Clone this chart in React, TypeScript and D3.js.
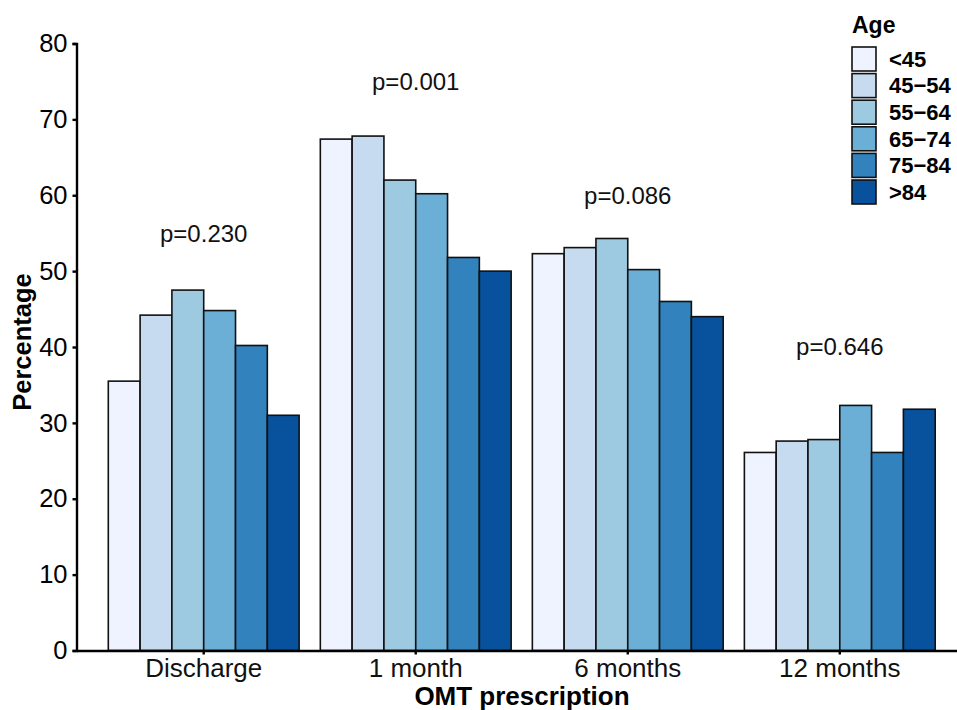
import React, { useRef, useEffect } from "react";
import * as d3 from "d3";

const timepoints = ["Discharge", "1 month", "6 months", "12 months"];
const ageGroups = ["<45", "45\u221254", "55\u221264", "65\u221274", "75\u221284", ">84"];
const colors = ["#EFF3FF", "#C6DBEF", "#9ECAE1", "#6BAED6", "#3182BD", "#08519C"];

// percentage by age group, one array per time point
const discharge = [35.5, 44.2, 47.5, 44.8, 40.2, 31.0];
const oneMonth = [67.4, 67.8, 62.0, 60.2, 51.8, 50.0];
const sixMonths = [52.3, 53.1, 54.3, 50.2, 46.0, 44.0];
const twelveMonths = [26.1, 27.6, 27.8, 32.3, 26.1, 31.8];

const pLabels = ["p=0.230", "p=0.001", "p=0.086", "p=0.646"];
const pLabelY = [55, 75, 60, 40];
const yTicks = [0, 10, 20, 30, 40, 50, 60, 70, 80];

const App = () => {
  const svgRef = useRef<SVGSVGElement>(null);

  useEffect(() => {
    const width = 957;
    const height = 710;
    const font = "Liberation Sans, Arial, sans-serif";
    const values = [discharge, oneMonth, sixMonths, twelveMonths];

    const svg = d3.select(svgRef.current);
    svg.selectAll("*").remove();
    svg.attr("width", width).attr("height", height);

    const left = 76.5;
    const bottom = 650.5;

    const x = d3
      .scaleBand()
      .domain(timepoints)
      .range([left, 967])
      .paddingInner(0)
      .paddingOuter(0.1);
    const xInner = d3
      .scaleBand()
      .domain(ageGroups)
      .range([0, x.bandwidth() * 0.9]);
    const y = d3.scaleLinear().domain([0, 80]).range([bottom, 43.5]);
    const color = d3.scaleOrdinal<string>().domain(ageGroups).range(colors);

    // bars
    timepoints.forEach((t, i) => {
      const g = svg
        .append("g")
        .attr("transform", `translate(${x(t)! + x.bandwidth() * 0.05},0)`);
      g.selectAll("rect")
        .data(values[i])
        .enter()
        .append("rect")
        .attr("x", (_d, j) => xInner(ageGroups[j])!)
        .attr("y", (d) => y(d))
        .attr("width", xInner.bandwidth())
        .attr("height", (d) => bottom - y(d))
        .attr("fill", (_d, j) => color(ageGroups[j]))
        .attr("stroke", "#111")
        .attr("stroke-width", 1.6);
    });

    // p-value labels
    svg
      .selectAll(".plabel")
      .data(pLabels)
      .enter()
      .append("text")
      .attr("class", "plabel")
      .attr("x", (_d, i) => x(timepoints[i])! + x.bandwidth() / 2)
      .attr("y", (_d, i) => y(pLabelY[i]))
      .attr("dy", "0.35em")
      .attr("text-anchor", "middle")
      .style("font-family", font)
      .style("font-size", "24px")
      .attr("fill", "#111")
      .text((d) => d);

    // y axis
    const yAxis = svg
      .append("g")
      .attr("transform", `translate(${left},0)`)
      .call(d3.axisLeft(y).tickValues(yTicks).tickSize(4).tickPadding(5));
    yAxis.select(".domain").attr("stroke", "#000").attr("stroke-width", 2.4);
    yAxis.selectAll(".tick line").attr("stroke", "#000").attr("stroke-width", 2.4);
    yAxis
      .selectAll(".tick text")
      .attr("fill", "#000")
      .style("font-family", font)
      .style("font-size", "25.5px");

    // x axis
    const xAxis = svg
      .append("g")
      .attr("transform", `translate(0,${bottom})`)
      .call(d3.axisBottom(x).tickSize(4).tickPadding(4).tickSizeOuter(0));
    xAxis.select(".domain").attr("stroke", "#000").attr("stroke-width", 2.4);
    xAxis.selectAll(".tick line").attr("stroke", "#000").attr("stroke-width", 2.4);
    xAxis
      .selectAll(".tick text")
      .attr("fill", "#111")
      .style("font-family", font)
      .style("font-size", "26px");

    // axis titles
    svg
      .append("text")
      .attr("x", 522)
      .attr("y", 705)
      .attr("text-anchor", "middle")
      .style("font-family", font)
      .style("font-size", "26px")
      .style("font-weight", "bold")
      .text("OMT prescription");

    svg
      .append("text")
      .attr("transform", `translate(31,342) rotate(-90)`)
      .attr("text-anchor", "middle")
      .style("font-family", font)
      .style("font-size", "25.5px")
      .style("font-weight", "bold")
      .text("Percentage");

    // legend
    const legend = svg.append("g").attr("transform", "translate(852,0)");
    legend
      .append("text")
      .attr("x", 0)
      .attr("y", 33)
      .style("font-family", font)
      .style("font-size", "23px")
      .style("font-weight", "bold")
      .text("Age");
    const items = legend
      .selectAll(".item")
      .data(ageGroups)
      .enter()
      .append("g")
      .attr("class", "item")
      .attr("transform", (_d, i) => `translate(0,${47 + i * 26.6})`);
    items
      .append("rect")
      .attr("width", 24)
      .attr("height", 24)
      .attr("fill", (d) => color(d))
      .attr("stroke", "#111")
      .attr("stroke-width", 1.6);
    items
      .append("text")
      .attr("x", 37)
      .attr("y", 12)
      .attr("dy", "0.35em")
      .style("font-family", font)
      .style("font-size", "22px")
      .style("font-weight", "bold")
      .text((d) => d);
  }, []);

  return <svg ref={svgRef} style={{ position: "absolute", left: 0, top: 0 }}></svg>;
};

export default App;
